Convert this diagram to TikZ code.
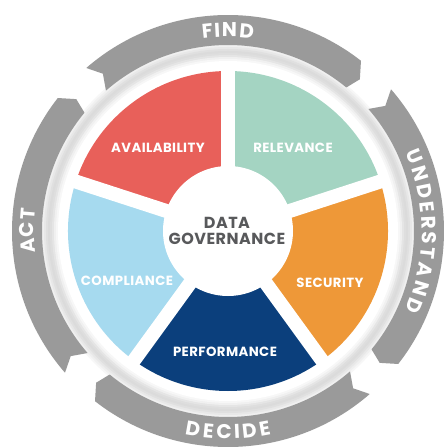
\documentclass[tikz,border=0pt]{standalone}
\usepackage{fontspec}
\setmainfont{Poppins}
\newfontfamily\labelfont{Poppins}[LetterSpace=3]
\usepackage{tikz}
\usetikzlibrary{decorations.text}
\usepackage{xcolor}
\definecolor{availred}{HTML}{E8605A}
\definecolor{relevmint}{HTML}{A4D4C2}
\definecolor{securorange}{HTML}{EE9838}
\definecolor{perfnavy}{HTML}{0B3F7C}
\definecolor{complblue}{HTML}{A6DAEF}
\definecolor{ringgray}{HTML}{9A9A9A}
\definecolor{hubgray}{HTML}{58595B}

\begin{document}
\begin{tikzpicture}[x=1pt,y=1pt,
    sector label/.style={text=white,font=\labelfont\bfseries\fontsize{13.3}{14}\selectfont},
    hub label/.style={text=hubgray,align=center,font=\labelfont\bfseries\fontsize{16}{16}\selectfont},
    gap/.style={white,line width=14pt},
    arc text/.style={decorate,decoration={text effects along path,text={#1},
      text effects/.cd,text along path,fit text to path,
      characters={text=white,font=\bfseries\fontsize{20}{21}\selectfont}}}]
  \useasboundingbox[fill=white] (-228,-216) rectangle (218,231);
  % soft shadow round the wheel
  \foreach \r/\k in {188/3,186/6,184/9,182/12,180/14,178/13,176/10,174/6,172/3}
    \fill[black!\k] (0,0) circle (\r);
  \fill[white] (0,0) circle (170);
  % the five sectors
  \foreach \a/\col in {90/availred,18/relevmint,-54/securorange,-126/perfnavy,162/complblue}
    \fill[\col] (0,0) -- (\a:160) arc[start angle=\a, end angle=\a+72, radius=160] -- cycle;
  \foreach \a in {18,90,162,234,306}
    \draw[gap] (0,0) -- (\a:163);
  \fill[white] (0,0) circle (65);
  % the four arrows
  \foreach \c/\word/\s/\h in {90/FIND/1/7.5,0/UNDERSTAND/1/24,-90/DECIDE/-1/12,180/ACT/1/6.5}{
    \fill[ringgray] (\c+41:216) arc[start angle=\c+41, end angle=\c-38, radius=216]
      -- (\c-41:201) -- (\c-39.5:186)
      arc[start angle=\c-39.5, end angle=\c+41, radius=186] -- (\c+38.5:201) -- cycle;
    \path[arc text/.expanded=\word]
      (\c+\s*\h:201-\s*7) arc[start angle=\c+\s*\h, end angle=\c-\s*\h, radius=201-\s*7];
  }
  \node[sector label] (availability) at (-70,83) {AVAILABILITY};
  \node[sector label] (relevance) at (65,83) {RELEVANCE};
  \node[sector label] (security) at (102,-52) {SECURITY};
  \node[sector label] (performance) at (-3,-121) {PERFORMANCE};
  \node[sector label] (compliance) at (-101,-50) {COMPLIANCE};
  \node[hub label] (hub) at (-1,0) {DATA\\GOVERNANCE};
\end{tikzpicture}
\end{document}
